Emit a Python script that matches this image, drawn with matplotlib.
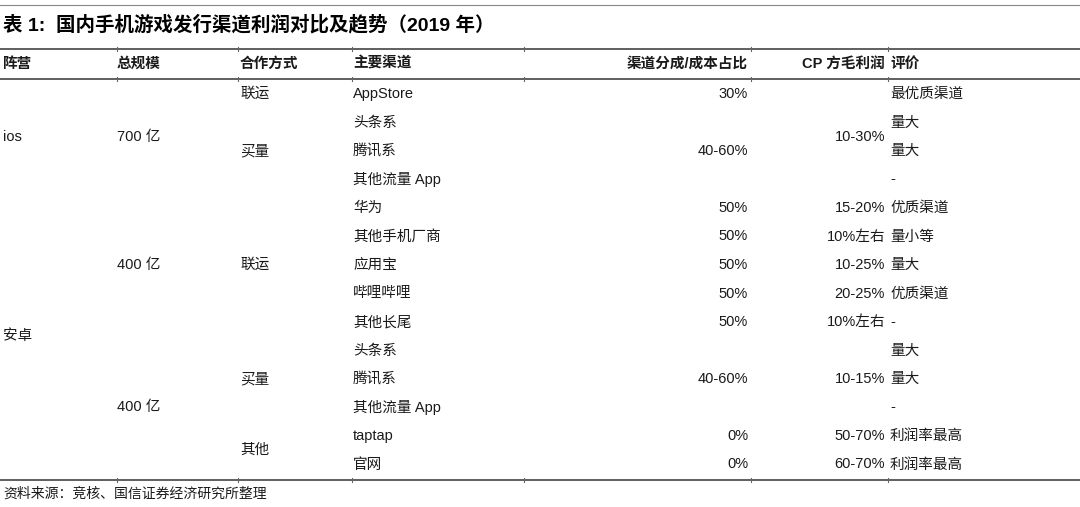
import matplotlib as mpl
import matplotlib.pyplot as plt

mpl.rcParams['font.family'] = ['Liberation Sans', 'Noto Sans CJK SC', 'DejaVu Sans']

title = '表 1:  国内手机游戏发行渠道利润对比及趋势（2019 年）'
source = '资料来源：竞核、国信证券经济研究所整理'
headers = ['阵营', '总规模', '合作方式', '主要渠道', '渠道分成/成本占比', 'CP 方毛利润', '评价']

channels = ['AppStore', '头条系', '腾讯系', '其他流量 App', '华为', '其他手机厂商', '应用宝',
            '哔哩哔哩', '其他长尾', '头条系', '腾讯系', '其他流量 App', 'taptap', '官网']
evaluations = ['最优质渠道', '量大', '量大', '-', '优质渠道', '量小等', '量大',
               '优质渠道', '-', '量大', '量大', '-', '利润率最高', '利润率最高']

# merged cells: (text, first row, last row)
camps = [('ios', 0, 3), ('安卓', 4, 13)]
scales = [('700 亿', 0, 3), ('400 亿', 4, 8), ('400 亿', 9, 13)]
coops = [('联运', 0, 0), ('买量', 1, 3), ('联运', 4, 8), ('买量', 9, 11), ('其他', 12, 13)]
shares = [('30%', 0, 0), ('40-60%', 1, 3), ('50%', 4, 4), ('50%', 5, 5), ('50%', 6, 6),
          ('50%', 7, 7), ('50%', 8, 8), ('40-60%', 9, 11), ('0%', 12, 12), ('0%', 13, 13)]
margins = [('10-30%', 1, 2), ('15-20%', 4, 4), ('10%左右', 5, 5), ('10-25%', 6, 6),
           ('20-25%', 7, 7), ('10%左右', 8, 8), ('10-15%', 9, 11), ('50-70%', 12, 12),
           ('60-70%', 13, 13)]

dpi = 100
fig = plt.figure(dpi=dpi, figsize=(1080 / dpi, 507 / dpi))
ax = fig.add_axes([0, 0, 1, 1])
ax.set_xlim(0, 1080)
ax.set_ylim(507, 0)
ax.axis('off')

fs = 10.5
txt = '#1a1a1a'
row0, dy = 94, 28.5


def row_y(a, b):
    return row0 + (a + b) / 2 * dy


# rules
ax.plot([0, 1080], [5, 5], color='#888888', lw=0.8)
for y in [48.5, 78.5, 480]:
    ax.plot([0, 1080], [y, y], color='#444444', lw=1.2)
    for x in [117, 238, 352, 524, 751, 888]:
        ax.plot([x, x], [y - 2, y + 2], color='#666666', lw=0.8)

ax.text(3, 25, title, fontsize=14, fontweight='bold', va='center', ha='left', color='black')

# header
hy = 64
hx = [3, 117, 240, 353]
for x, h in zip(hx, headers[:4]):
    ax.text(x, hy, h, fontsize=fs, fontweight='bold', va='center', ha='left', color=txt)
ax.text(748, hy, headers[4], fontsize=fs, fontweight='bold', va='center', ha='right', color=txt)
ax.text(885, hy, headers[5], fontsize=fs, fontweight='bold', va='center', ha='right', color=txt)
ax.text(890, hy, headers[6], fontsize=fs, fontweight='bold', va='center', ha='left', color=txt)

for label, a, b in camps:
    ax.text(3, row_y(a, b), label, fontsize=fs, va='center', ha='left', color=txt)
for label, a, b in scales:
    ax.text(117, row_y(a, b), label, fontsize=fs, va='center', ha='left', color=txt)
for label, a, b in coops:
    ax.text(240, row_y(a, b), label, fontsize=fs, va='center', ha='left', color=txt)
for i, label in enumerate(channels):
    ax.text(353, row_y(i, i), label, fontsize=fs, va='center', ha='left', color=txt)
for label, a, b in shares:
    ax.text(748, row_y(a, b), label, fontsize=fs, va='center', ha='right', color=txt)
for label, a, b in margins:
    ax.text(885, row_y(a, b), label, fontsize=fs, va='center', ha='right', color=txt)
for i, label in enumerate(evaluations):
    ax.text(890, row_y(i, i), label, fontsize=fs, va='center', ha='left', color=txt)

ax.text(3, 494, source, fontsize=10, va='center', ha='left', color=txt)

fig.savefig('out.png', dpi=dpi)
